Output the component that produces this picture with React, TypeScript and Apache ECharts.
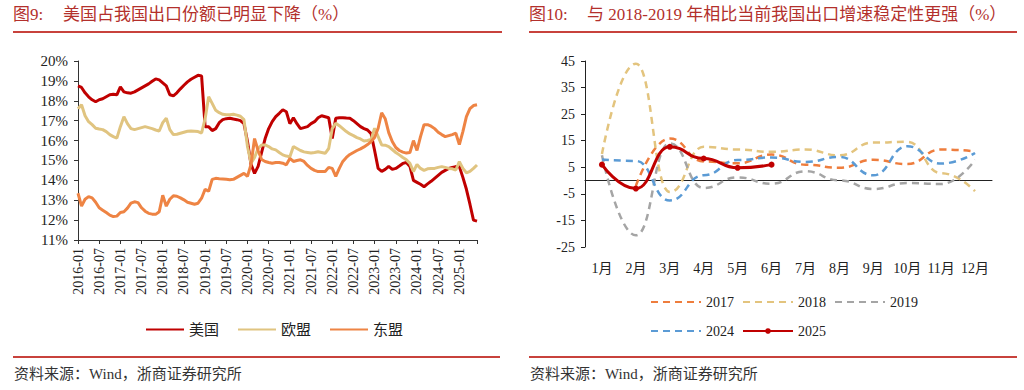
import React, { useEffect, useRef } from "react";
import * as echarts from "echarts";

// ---------- Left chart: share of China's exports (%) ----------
const usShare = [
  18.75, 18.67, 18.40, 18.20, 18.05, 17.95, 18.05, 18.10, 18.20, 18.30, 18.33, 18.30,
  18.70, 18.45, 18.40, 18.38, 18.45, 18.55, 18.65, 18.75, 18.85, 18.98, 19.10, 19.05,
  18.90, 18.75, 18.30, 18.25, 18.40, 18.60, 18.78, 18.95, 19.08, 19.18, 19.28, 19.25,
  16.70, 16.70, 16.50, 16.60, 16.90, 17.05, 17.10, 17.12, 17.08, 17.05, 17.00, 16.85,
  15.95, 14.80, 14.35, 14.70, 15.40, 16.10, 16.60, 16.95, 17.20, 17.37, 17.55, 17.45,
  16.85, 17.15, 16.85, 16.60, 16.65, 16.70, 16.85, 16.95, 17.15, 17.25, 17.20, 17.15,
  16.10, 17.12, 17.15, 17.15, 17.13, 17.12, 17.00, 16.85, 16.70, 16.60, 16.53, 16.35,
  15.50, 14.60, 14.45, 14.55, 14.70, 14.55, 14.60, 14.72, 14.85, 14.90, 14.70, 14.00,
  13.90, 13.80, 13.68, 13.82, 13.95, 14.10, 14.25, 14.40, 14.50, 14.60, 14.65, 14.69,
  14.69, 14.15, 13.55, 12.80, 12.00, 11.95,
];
const euShare = [
  17.6, 17.8, 17.25, 16.95, 16.8, 16.62, 16.58, 16.55, 16.45, 16.3, 16.2, 16.12,
  16.7, 17.2, 16.85, 16.6, 16.55, 16.6, 16.65, 16.7, 16.65, 16.6, 16.53, 16.48,
  16.9, 17.12, 16.55, 16.3, 16.32, 16.37, 16.42, 16.47, 16.48, 16.47, 16.45, 16.38,
  17.1, 18.2, 17.87, 17.52, 17.4, 17.32, 17.3, 17.3, 17.32, 17.28, 17.22, 17.05,
  15.7, 14.86, 15.15, 15.6, 15.78, 15.78, 15.7, 15.58, 15.53, 15.4, 15.28, 15.22,
  15.19, 15.7, 15.6, 15.5, 15.43, 15.4, 15.37, 15.4, 15.44, 15.4, 15.36, 15.6,
  16.6, 16.87, 16.75, 16.6, 16.45, 16.33, 16.25, 16.15, 16.08, 15.98, 16.0, 16.05,
  16.62, 16.2, 15.78, 15.77, 15.7, 15.55, 15.4, 15.28, 15.15, 15.03, 14.85, 14.44,
  14.8, 14.6, 14.5, 14.58, 14.6, 14.6, 14.65, 14.69, 14.65, 14.6, 14.58, 14.52,
  14.94, 14.6, 14.38, 14.45, 14.6, 14.77,
];
const aseanShare = [
  13.35, 12.7, 13.05, 13.18, 13.12, 12.9, 12.62, 12.5, 12.38, 12.25, 12.18, 12.2,
  12.38, 12.42, 12.6, 12.85, 12.92, 12.88, 12.62, 12.45, 12.34, 12.3, 12.29, 12.42,
  13.25, 12.7, 13.05, 13.22, 13.2, 13.12, 13.02, 12.9, 12.85, 12.8, 12.85, 13.1,
  13.55, 13.45, 14.05, 14.1, 14.08, 14.07, 14.05, 14.03, 14.05, 14.15, 14.25, 14.35,
  14.2, 14.8, 16.1, 15.5, 15.05, 14.95, 14.9, 14.86, 14.9, 14.9, 14.86, 14.78,
  15.1, 14.95, 15.0, 15.03, 14.95, 14.75, 14.6, 14.5, 14.44, 14.44, 14.44, 14.65,
  14.6, 14.2, 14.6, 14.95, 15.15, 15.3, 15.4, 15.5, 15.58, 15.68, 15.8, 15.95,
  16.15, 16.62, 17.4, 17.1, 16.4, 15.95, 15.65, 15.5, 15.42, 15.37, 15.4, 16.0,
  15.5, 16.2, 16.8, 16.8, 16.72, 16.6, 16.42, 16.3, 16.2, 16.25, 16.3, 16.37,
  15.8, 16.45, 17.2, 17.6, 17.76, 17.8,
];
const startYear = 2016;
const monthCount = 114; // 2016-01 .. 2025-06

// ---------- Right chart: export growth by month ----------
const monthCats = ["1月", "2月", "3月", "4月", "5月", "6月", "7月", "8月", "9月", "10月", "11月", "12月"];
const y2017 = [null, -2, 15.8, 7.2, 6.5, 9.8, 6.0, 4.8, 7.8, 6.2, 11.7, 11.0];
const y2018 = [10, 44, -4.3, 12.7, 11.7, 10.8, 11.7, 9.5, 14.3, 14.6, 2.8, -4.0];
const y2019 = [9.5, -20.6, 14.0, -2.8, 1.2, -1.2, 3.5, 0.1, -3.2, -0.9, -1.3, 7.8];
const y2024 = [7.9, 7.4, -7.5, 2.0, 7.7, 8.7, 7.0, 8.9, 2.0, 12.9, 6.4, 10.4];
const y2025 = [6.0, -3.0, 12.7, 8.3, 4.8, 6.0];

const SERIF = "'Liberation Serif', 'Noto Sans CJK SC', serif";

function buildMonthLabels(): string[] {
  const out: string[] = [];
  for (let i = 0; i < monthCount; i++) {
    const y = startYear + Math.floor(i / 12);
    const m = (i % 12) + 1;
    out.push(`${y}-${m < 10 ? "0" + m : m}`);
  }
  return out;
}

export default function App() {
  const ref = useRef<HTMLDivElement>(null);
  useEffect(() => {
    if (!ref.current) return;
    const chart = echarts.init(ref.current, undefined, { renderer: "svg" });
    const monthLabels = buildMonthLabels();
    const axisColor = "#333";
    const titleColor = "#b3302c";
    const ruleColor = "#c8423c";

    const dashed = (name: string, data: (number | null)[], color: string) => ({
      name,
      type: "line",
      xAxisIndex: 1,
      yAxisIndex: 1,
      data,
      smooth: 0.5,
      smoothMonotone: "x",
      symbol: "none",
      connectNulls: false,
      lineStyle: { color, width: 2.5, type: [7, 5] },
      itemStyle: { color },
      z: 2,
    });

    const noSym = (name: string) => ({ name, itemStyle: { opacity: 0 } });

    const option: any = {
      animation: false,
      textStyle: { fontFamily: SERIF },
      grid: [
        { left: 78, top: 61, width: 399, height: 179 },
        { left: 585, top: 61, width: 407, height: 186 },
      ],
      xAxis: [
        {
          gridIndex: 0,
          type: "category",
          data: monthLabels,
          boundaryGap: false,
          axisLine: { lineStyle: { color: axisColor, width: 1 } },
          axisTick: {
            length: 4,
            interval: (i: number) => i % 6 === 0 || i === monthCount - 1,
            lineStyle: { color: axisColor },
          },
          axisLabel: {
            interval: (i: number) => i % 6 === 0,
            rotate: 90,
            fontSize: 14,
            color: "#222",
            margin: 8,
            fontFamily: SERIF,
          },
          splitLine: { show: false },
        },
        {
          gridIndex: 1,
          type: "category",
          data: monthCats,
          position: "bottom",
          axisLine: { onZero: true, lineStyle: { color: "#222", width: 1 } },
          axisTick: { length: 4, lineStyle: { color: "#222" } },
          axisLabel: { show: false },
        },
        {
          gridIndex: 1,
          type: "category",
          data: monthCats,
          position: "bottom",
          axisLine: { show: false, onZero: false },
          axisTick: { show: false },
          axisLabel: { interval: 0, fontSize: 14, color: "#222", margin: 14, fontFamily: SERIF },
        },
      ],
      yAxis: [
        {
          gridIndex: 0,
          type: "value",
          min: 11,
          max: 20,
          interval: 1,
          axisLine: { show: true, lineStyle: { color: axisColor } },
          axisTick: { show: true, length: 4, lineStyle: { color: axisColor } },
          axisLabel: { formatter: "{value}%", fontSize: 15, color: "#222", margin: 10, fontFamily: SERIF },
          splitLine: { show: false },
        },
        {
          gridIndex: 1,
          type: "value",
          min: -25,
          max: 45,
          interval: 10,
          axisLine: { show: true, lineStyle: { color: "#222" } },
          axisTick: { show: true, length: 4, lineStyle: { color: "#222" } },
          axisLabel: { fontSize: 14, color: "#222", margin: 10, fontFamily: SERIF },
          splitLine: { show: false },
        },
      ],
      legend: [
        {
          data: [noSym("美国"), noSym("欧盟"), noSym("东盟")],
          left: 140,
          top: 317,
          itemWidth: 38,
          itemHeight: 12,
          itemGap: 18,
          textStyle: { fontSize: 15, color: "#222", fontFamily: SERIF },
        },
        {
          data: [noSym("2017"), noSym("2018"), noSym("2019")],
          left: 645,
          top: 290,
          itemWidth: 50,
          itemHeight: 12,
          itemGap: 8,
          textStyle: { fontSize: 14, color: "#222", fontFamily: SERIF },
        },
        {
          data: [noSym("2024"), { name: "2025" }],
          left: 645,
          top: 319,
          itemWidth: 50,
          itemHeight: 7,
          itemGap: 8,
          textStyle: { fontSize: 14, color: "#222", fontFamily: SERIF },
        },
      ],
      series: [
        {
          name: "美国",
          type: "line",
          xAxisIndex: 0,
          yAxisIndex: 0,
          data: usShare,
          symbol: "none",
          lineStyle: { color: "#c00000", width: 3 },
          itemStyle: { color: "#c00000" },
          z: 3,
        },
        {
          name: "欧盟",
          type: "line",
          xAxisIndex: 0,
          yAxisIndex: 0,
          data: euShare,
          symbol: "none",
          lineStyle: { color: "#e0c480", width: 3 },
          itemStyle: { color: "#e0c480" },
          z: 4,
        },
        {
          name: "东盟",
          type: "line",
          xAxisIndex: 0,
          yAxisIndex: 0,
          data: aseanShare,
          symbol: "none",
          lineStyle: { color: "#ee8444", width: 3 },
          itemStyle: { color: "#ee8444" },
          z: 5,
        },
        dashed("2017", y2017, "#ee7d3d"),
        dashed("2018", y2018, "#e3c47e"),
        dashed("2019", y2019, "#a5a5a5"),
        dashed("2024", y2024, "#5b9bd5"),
        {
          name: "2025",
          type: "line",
          xAxisIndex: 1,
          yAxisIndex: 1,
          data: y2025,
          smooth: 0.5,
          smoothMonotone: "x",
          symbol: "circle",
          symbolSize: 6,
          lineStyle: { color: "#c00000", width: 3 },
          itemStyle: { color: "#c00000" },
          z: 6,
        },
      ],
      graphic: [
        { type: "text", left: 13, top: 6, style: { text: "图9:", fontSize: 17, fill: titleColor, fontFamily: SERIF } },
        {
          type: "text",
          left: 63,
          top: 6,
          style: { text: "美国占我国出口份额已明显下降（%）", fontSize: 17, fill: titleColor, fontFamily: SERIF },
        },
        { type: "text", left: 529, top: 6, style: { text: "图10:", fontSize: 17, fill: titleColor, fontFamily: SERIF } },
        {
          type: "text",
          left: 587,
          top: 6,
          style: {
            text: "与 2018-2019 年相比当前我国出口增速稳定性更强（%）",
            fontSize: 17,
            fill: titleColor,
            fontFamily: SERIF,
          },
        },
        { type: "line", shape: { x1: 13, y1: 32, x2: 502, y2: 32 }, style: { stroke: ruleColor, lineWidth: 2 } },
        { type: "line", shape: { x1: 529, y1: 32, x2: 1017, y2: 32 }, style: { stroke: ruleColor, lineWidth: 2 } },
        { type: "line", shape: { x1: 13, y1: 357, x2: 500, y2: 357 }, style: { stroke: ruleColor, lineWidth: 2 } },
        { type: "line", shape: { x1: 529, y1: 357, x2: 1017, y2: 357 }, style: { stroke: ruleColor, lineWidth: 2 } },
        {
          type: "text",
          left: 14,
          top: 366,
          style: { text: "资料来源：Wind，浙商证券研究所", fontSize: 15, fill: "#333", fontFamily: SERIF },
        },
        {
          type: "text",
          left: 530,
          top: 366,
          style: { text: "资料来源：Wind，浙商证券研究所", fontSize: 15, fill: "#333", fontFamily: SERIF },
        },
      ],
    };
    chart.setOption(option);
    return () => chart.dispose();
  }, []);

  return (
    <div
      ref={ref}
      style={{ position: "absolute", left: 0, top: 0, width: 1024, height: 390, background: "#fff" }}
    />
  );
}
